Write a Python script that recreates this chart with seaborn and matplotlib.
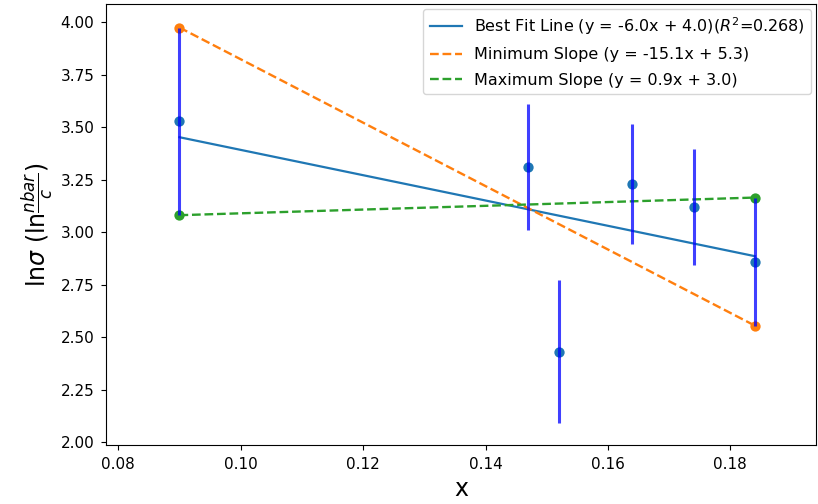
import numpy as np
import pandas as pd
import matplotlib
matplotlib.use("Agg")
import matplotlib.pyplot as plt
import seaborn as sns

# Measurements: x and ln(sigma) with their uncertainties
x_vals = [0.090, 0.147, 0.152, 0.164, 0.174, 0.184]
ln_sigma = [3.528, 3.31, 2.43, 3.23, 3.12, 2.86]
sigma_err = [0.447, 0.30, 0.34, 0.285, 0.275, 0.305]

x = np.array(x_vals)
y = np.array(ln_sigma)
e = np.array(sigma_err)

# Least-squares fit
m, b = np.polyfit(x, y, 1)
r2 = np.corrcoef(x, y)[0, 1] ** 2

# Extreme slopes through the ends of the first and last error bars
x_end = np.array([x[0], x[-1]])
y_min = np.array([y[0] + e[0], y[-1] - e[-1]])
y_max = np.array([y[0] - e[0], y[-1] + e[-1]])
m_min, b_min = np.polyfit(x_end, y_min, 1)
m_max, b_max = np.polyfit(x_end, y_max, 1)

fig = plt.figure(figsize=(8.18, 5.04), dpi=100)
ax = fig.add_axes([0.1296, 0.117, 0.868, 0.875])

fit_df = pd.DataFrame({"x": x_end, "y": m * x_end + b})
sns.lineplot(data=fit_df, x="x", y="y", ax=ax, color="C0", linewidth=1.6,
             label=f"Best Fit Line (y = {m:.1f}x + {b:.1f})($R^2$={r2:.3f})")
sns.lineplot(x=x_end, y=y_min, ax=ax, color="C1", linestyle="--", linewidth=1.7,
             label=f"Minimum Slope (y = {m_min:.1f}x + {b_min:.1f})")
sns.lineplot(x=x_end, y=y_max, ax=ax, color="C2", linestyle="--", linewidth=1.7,
             label=f"Maximum Slope (y = {m_max:.1f}x + {b_max:.1f})")

sns.scatterplot(x=x, y=y, ax=ax, color="C0", s=55, linewidth=0, zorder=2.5)
sns.scatterplot(x=x_end, y=y_min, ax=ax, color="C1", s=55, linewidth=0, zorder=2.5)
sns.scatterplot(x=x_end, y=y_max, ax=ax, color="C2", s=55, linewidth=0, zorder=2.5)

ax.errorbar(x, y, yerr=e, fmt="none", ecolor="blue", elinewidth=2.2,
            alpha=0.75, zorder=3)

ax.set_xlim(0.078, 0.194)
ax.set_ylim(1.986, 4.087)
ax.set_yticks(np.arange(2.0, 4.01, 0.25))
ax.yaxis.set_major_formatter(matplotlib.ticker.FormatStrFormatter("%.2f"))
ax.tick_params(labelsize=11, pad=5)
ax.set_xlabel("x", fontsize=17)
ax.set_ylabel(r"ln$\sigma$ (ln$\frac{nbar}{c}$)", fontsize=17)
ax.legend(loc="upper right", fontsize=11.5, borderaxespad=0.3,
          labelspacing=0.65)

fig.savefig("out.png", dpi=100)
